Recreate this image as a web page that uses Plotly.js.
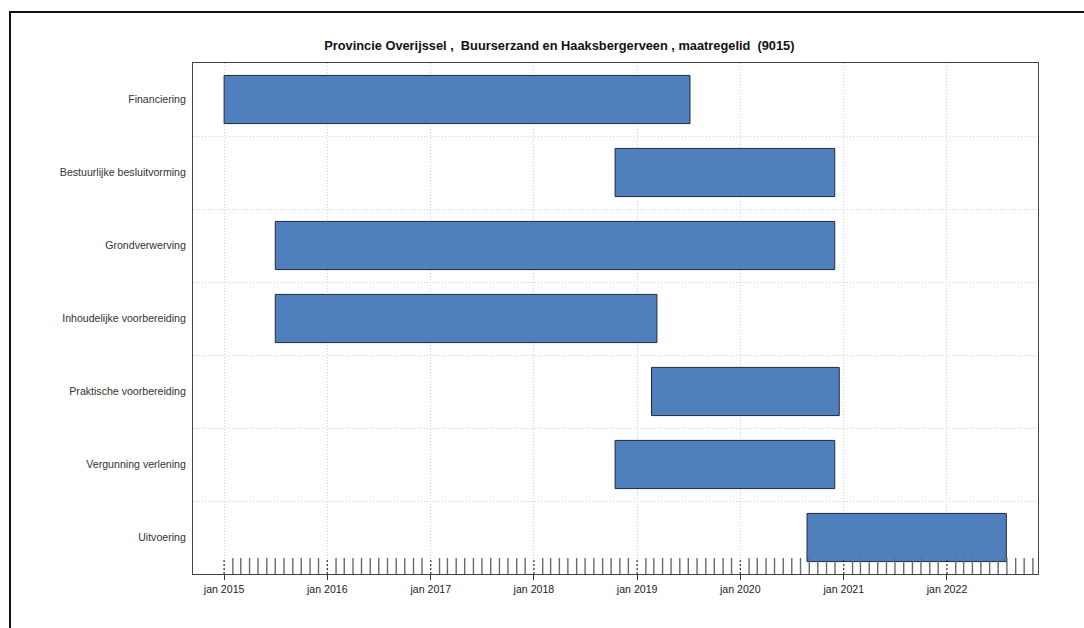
<!DOCTYPE html>
<html>
<head>
<meta charset="utf-8">
<script src="https://cdn.plot.ly/plotly-3.0.1.min.js"></script>
<style>
  html, body { margin: 0; padding: 0; background: #fff; }
  #wrap { position: relative; width: 1084px; height: 628px; overflow: hidden; }
  #chart { position: absolute; left: 0; top: 0; width: 1084px; height: 628px; }
  #frame { position: absolute; left: 9px; top: 11px; width: 1100px; height: 700px;
           border-top: 2px solid #111; border-left: 2px solid #111; pointer-events: none; }
</style>
</head>
<body>
<div id="wrap">
  <div id="chart"></div>
  <div id="frame"></div>
</div>
<script>
// ---- data ----
const chartTitle = "Provincie Overijssel ,  Buurserzand en Haaksbergerveen , maatregelid  (9015)";
const activities = [
  "Financiering",
  "Bestuurlijke besluitvorming",
  "Grondverwerving",
  "Inhoudelijke voorbereiding",
  "Praktische voorbereiding",
  "Vergunning verlening",
  "Uitvoering"
];
const startDates = ["2015-01-01", "2018-10-15", "2015-07-01", "2015-07-01", "2019-02-21", "2018-10-15", "2020-08-24"];
const endDates   = ["2019-07-07", "2020-11-30", "2020-11-30", "2019-03-12", "2020-12-16", "2020-11-30", "2022-07-30"];
const yearTickVals  = ["2015-01-01", "2016-01-01", "2017-01-01", "2018-01-01", "2019-01-01", "2020-01-01", "2021-01-01", "2022-01-01"];
const yearTickText  = ["jan 2015", "jan 2016", "jan 2017", "jan 2018", "jan 2019", "jan 2020", "jan 2021", "jan 2022"];
const xRange = ["2014-09-13", "2022-11-19"];
const rugFirstMonth = [2015, 0];   // jan 2015
const rugLastMonth  = [2022, 10];  // nov 2022

// ---- derived ----
const durations = startDates.map((s, i) => new Date(endDates[i]) - new Date(s));

// monthly rug segments
const rugX = [], rugY = [];
const rugXJan = [], rugYJan = [];
for (let y = rugFirstMonth[0], m = rugFirstMonth[1]; y < rugLastMonth[0] || (y === rugLastMonth[0] && m <= rugLastMonth[1]); ) {
  const d = y + "-" + String(m + 1).padStart(2, "0") + "-01";
  if (m === 0) { rugXJan.push(d, d, null); rugYJan.push(0, 0.22, null); }
  else { rugX.push(d, d, null); rugY.push(0, 0.22, null); }
  m++; if (m > 11) { m = 0; y++; }
}

const bars = {
  type: "bar",
  orientation: "h",
  y: activities,
  x: durations,
  base: startDates,
  width: 0.66,
  marker: { color: "#4f80bd", line: { color: "#1e2a38", width: 1 } },
  hoverinfo: "skip",
  showlegend: false
};

const rug = {
  type: "scatter", mode: "lines",
  x: rugX, y: rugY, yaxis: "y2",
  line: { color: "#6a6a6a", width: 1.4 },
  hoverinfo: "skip", showlegend: false
};
const rugJan = {
  type: "scatter", mode: "lines",
  x: rugXJan, y: rugYJan, yaxis: "y2",
  line: { color: "#333", width: 1.2, dash: "2px,2px" },
  hoverinfo: "skip", showlegend: false
};

const fontFam = "Liberation Sans, Arial, sans-serif";

const layout = {
  width: 1084, height: 628,
  margin: { l: 193, r: 46, t: 63, b: 54, pad: 0 },
  paper_bgcolor: "#fff",
  plot_bgcolor: "#fff",
  font: { family: fontFam, size: 10.5, color: "#222" },
  title: {
    text: "<b>" + chartTitle + "</b>",
    font: { family: fontFam, size: 12.8, color: "#111" },
    xref: "container", x: 0.516, xanchor: "center",
    yref: "container", y: 0.928, yanchor: "middle"
  },
  xaxis: {
    type: "date",
    range: xRange,
    tickvals: yearTickVals,
    ticktext: yearTickText,
    ticks: "outside", ticklen: 5, tickcolor: "#333", tickwidth: 1,
    showgrid: true, gridcolor: "#d2d2d2", griddash: "1px,2px", gridwidth: 1,
    showline: true, mirror: true, linecolor: "#444", linewidth: 1,
    zeroline: false,
    tickfont: { family: fontFam, size: 10.6, color: "#222" }
  },
  yaxis: {
    type: "category",
    range: [6.5, -0.5],
    categoryorder: "array", categoryarray: activities,
    showgrid: false, zeroline: false,
    showline: true, mirror: true, linecolor: "#444", linewidth: 1,
    ticks: "", ticklabelstandoff: 4,
    tickfont: { family: fontFam, size: 10.6, color: "#333" }
  },
  yaxis2: {
    overlaying: "y",
    range: [0, 7],
    tickvals: [1, 2, 3, 4, 5, 6],
    showticklabels: false, ticks: "",
    showgrid: true, gridcolor: "#d2d2d2", griddash: "1px,2px", gridwidth: 1,
    zeroline: false, showline: false
  },
  showlegend: false
};

Plotly.newPlot("chart", [bars, rug, rugJan], layout, { displayModeBar: false, staticPlot: true });
</script>
</body>
</html>
